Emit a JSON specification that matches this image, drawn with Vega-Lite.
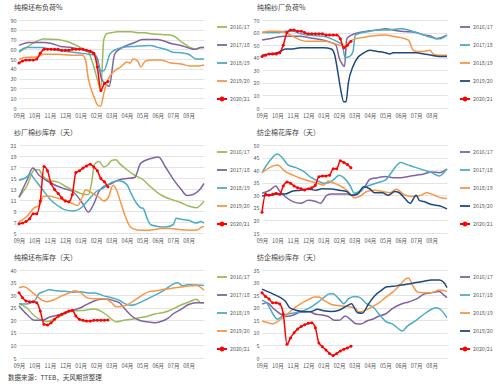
{
"$schema":"https://vega.github.io/schema/vega-lite/v6.json",
"padding":{"left":7,"top":4,"right":0,"bottom":2},
"title":{"text":"数据来源：TTEB，天风期货整理","orient":"bottom","anchor":"start","frame":"bounds","fontSize":6.5,"fontWeight":"normal","color":"#404040","offset":6,"dx":-2},
"columns":2,
"bounds":"flush",
"spacing":{"row":37,"column":58},
"resolve":{"scale":{"color":"independent","x":"independent","y":"independent"},"legend":{"color":"independent"}},
"config":{
"font":"Noto Sans CJK SC",
"view":{"stroke":null},
"axis":{"labelFontSize":5.5,"labelColor":"#595959","ticks":false,"domain":false,"title":null,"labelPadding":3,"gridColor":"#d9d9d9","gridWidth":0.7},
"axisX":{"grid":false,"labelOverlap":false,"labelFlush":false,"labelPadding":5},
"legend":{"orient":"right","labelFontSize":5.3,"labelColor":"#595959","symbolType":"stroke","symbolStrokeWidth":1.8,"symbolSize":100,"rowPadding":8,"offset":8,"padding":1,"labelOffset":2}
},
"concat":[
{
"width":185,"height":88,
"title":{"text":"纯棉坯布负荷%","anchor":"start","frame":"group","fontSize":7,"fontWeight":"normal","color":"#404040","offset":7,"dx":-5},
"data":{"values":[
{"s":"2016/17","m":0,"v":57},{"s":"2016/17","m":0.5,"v":62},{"s":"2016/17","m":0.9,"v":66},{"s":"2016/17","m":1.6,"v":70.5},{"s":"2016/17","m":2.5,"v":70},{"s":"2016/17","m":3.1,"v":68},{"s":"2016/17","m":3.6,"v":65},{"s":"2016/17","m":4.2,"v":60},{"s":"2016/17","m":4.5,"v":57},{"s":"2016/17","m":4.8,"v":45},{"s":"2016/17","m":5.1,"v":28},{"s":"2016/17","m":5.3,"v":18},{"s":"2016/17","m":5.5,"v":70},{"s":"2016/17","m":5.7,"v":76},{"s":"2016/17","m":6,"v":77},{"s":"2016/17","m":6.4,"v":78},{"s":"2016/17","m":7.3,"v":78},{"s":"2016/17","m":7.7,"v":77},{"s":"2016/17","m":8.2,"v":77},{"s":"2016/17","m":8.5,"v":76},{"s":"2016/17","m":9.4,"v":75},{"s":"2016/17","m":10,"v":74},{"s":"2016/17","m":10.5,"v":68},{"s":"2016/17","m":11.1,"v":62},{"s":"2016/17","m":11.5,"v":60},{"s":"2016/17","m":11.8,"v":62},{"s":"2016/17","m":12,"v":62},
{"s":"2017/18","m":0,"v":64},{"s":"2017/18","m":0.65,"v":67},{"s":"2017/18","m":1.6,"v":67},{"s":"2017/18","m":2.1,"v":66},{"s":"2017/18","m":2.7,"v":63},{"s":"2017/18","m":3.4,"v":62},{"s":"2017/18","m":4,"v":60},{"s":"2017/18","m":4.5,"v":58},{"s":"2017/18","m":4.9,"v":55},{"s":"2017/18","m":5.1,"v":50},{"s":"2017/18","m":5.35,"v":30},{"s":"2017/18","m":5.6,"v":25},{"s":"2017/18","m":5.85,"v":22},{"s":"2017/18","m":6.2,"v":55},{"s":"2017/18","m":6.5,"v":60},{"s":"2017/18","m":7,"v":64},{"s":"2017/18","m":7.5,"v":67},{"s":"2017/18","m":8,"v":70},{"s":"2017/18","m":9,"v":70},{"s":"2017/18","m":9.3,"v":69},{"s":"2017/18","m":9.85,"v":66},{"s":"2017/18","m":10.5,"v":64},{"s":"2017/18","m":11.1,"v":61},{"s":"2017/18","m":11.4,"v":60},{"s":"2017/18","m":11.8,"v":62},{"s":"2017/18","m":12,"v":62},
{"s":"2018/19","m":0,"v":58},{"s":"2018/19","m":0.5,"v":62},{"s":"2018/19","m":1.5,"v":62},{"s":"2018/19","m":2,"v":60},{"s":"2018/19","m":3,"v":58},{"s":"2018/19","m":4,"v":56},{"s":"2018/19","m":4.5,"v":55},{"s":"2018/19","m":4.9,"v":54},{"s":"2018/19","m":5.15,"v":45},{"s":"2018/19","m":5.3,"v":38},{"s":"2018/19","m":5.5,"v":38},{"s":"2018/19","m":5.9,"v":55},{"s":"2018/19","m":6.3,"v":60},{"s":"2018/19","m":6.8,"v":62},{"s":"2018/19","m":7.5,"v":63},{"s":"2018/19","m":8.5,"v":64},{"s":"2018/19","m":9,"v":62},{"s":"2018/19","m":9.5,"v":60},{"s":"2018/19","m":10,"v":57},{"s":"2018/19","m":10.5,"v":56.5},{"s":"2018/19","m":11,"v":55},{"s":"2018/19","m":11.5,"v":50},{"s":"2018/19","m":12,"v":50},
{"s":"2019/20","m":0,"v":50},{"s":"2019/20","m":0.5,"v":52},{"s":"2019/20","m":1,"v":52},{"s":"2019/20","m":1.3,"v":53},{"s":"2019/20","m":1.6,"v":55},{"s":"2019/20","m":2.5,"v":55},{"s":"2019/20","m":3.4,"v":54},{"s":"2019/20","m":4.1,"v":54},{"s":"2019/20","m":4.3,"v":50},{"s":"2019/20","m":4.5,"v":30},{"s":"2019/20","m":4.9,"v":10},{"s":"2019/20","m":5.1,"v":3},{"s":"2019/20","m":5.3,"v":2},{"s":"2019/20","m":5.5,"v":15},{"s":"2019/20","m":5.8,"v":30},{"s":"2019/20","m":6.2,"v":38},{"s":"2019/20","m":6.6,"v":42},{"s":"2019/20","m":7,"v":47},{"s":"2019/20","m":7.2,"v":46},{"s":"2019/20","m":7.4,"v":50},{"s":"2019/20","m":7.7,"v":48},{"s":"2019/20","m":7.9,"v":42},{"s":"2019/20","m":8.2,"v":48},{"s":"2019/20","m":8.7,"v":49},{"s":"2019/20","m":9.2,"v":49},{"s":"2019/20","m":9.85,"v":46},{"s":"2019/20","m":10.5,"v":45},{"s":"2019/20","m":11.1,"v":43},{"s":"2019/20","m":11.6,"v":43},{"s":"2019/20","m":12,"v":44},
{"s":"2020/21","m":0,"v":46},{"s":"2020/21","m":0.23,"v":48},{"s":"2020/21","m":0.46,"v":49},{"s":"2020/21","m":0.69,"v":49},{"s":"2020/21","m":0.92,"v":49},{"s":"2020/21","m":1.15,"v":50},{"s":"2020/21","m":1.38,"v":56},{"s":"2020/21","m":1.62,"v":60},{"s":"2020/21","m":1.85,"v":60},{"s":"2020/21","m":2.08,"v":60},{"s":"2020/21","m":2.31,"v":60},{"s":"2020/21","m":2.54,"v":60},{"s":"2020/21","m":2.77,"v":59},{"s":"2020/21","m":3,"v":59},{"s":"2020/21","m":3.23,"v":59},{"s":"2020/21","m":3.46,"v":60},{"s":"2020/21","m":3.69,"v":60},{"s":"2020/21","m":3.92,"v":60},{"s":"2020/21","m":4.15,"v":60},{"s":"2020/21","m":4.38,"v":59},{"s":"2020/21","m":4.62,"v":58},{"s":"2020/21","m":4.85,"v":56},{"s":"2020/21","m":5.08,"v":42},{"s":"2020/21","m":5.31,"v":18},{"s":"2020/21","m":5.54,"v":25},{"s":"2020/21","m":5.77,"v":27}
]},
"encoding":{
"x":{"field":"m","type":"quantitative","scale":{"domain":[0,12],"nice":false},"axis":{"values":[0,1,2,3,4,5,6,7,8,9,10,11],"labelExpr":"['09月','10月','11月','12月','01月','02月','03月','04月','05月','06月','07月','08月'][datum.value]"}},
"y":{"field":"v","type":"quantitative","scale":{"domain":[0,90],"nice":false},"axis":{"values":[0,10,20,30,40,50,60,70,80,90]}},
"color":{"field":"s","type":"nominal","scale":{"domain":["2016/17","2017/18","2018/19","2019/20","2020/21"],"range":["#9BBB59","#8064A2","#4BACC6","#F79646","#FF0000"]},"legend":{"title":null,"encode":{"symbols":{"update":{"shape":[{"test":"datum.value==='2020/21'","value":"M-1,0H1M-0.3,0A0.3,0.3,0,1,0,0.3,0A0.3,0.3,0,1,0,-0.3,0Z"},{"value":"stroke"}],"fill":[{"test":"datum.value==='2020/21'","value":"#FF0000"},{"value":"transparent"}]}}}}}
},
"layer":[
{"mark":{"type":"line","interpolate":"monotone","strokeWidth":1.5}},
{"transform":[{"filter":"datum.s==='2020/21'"}],"mark":{"type":"point","filled":true,"size":9,"opacity":1},"encoding":{"color":{"value":"#FF0000"}}}
]
},
{
"width":185,"height":88,
"title":{"text":"纯棉纱厂负荷%","anchor":"start","frame":"group","fontSize":7,"fontWeight":"normal","color":"#404040","offset":7,"dx":-5},
"data":{"values":[
{"s":"2016/17","m":0,"v":54},{"s":"2016/17","m":0.5,"v":55},{"s":"2016/17","m":1,"v":56.5},{"s":"2016/17","m":1.5,"v":57},{"s":"2016/17","m":2.5,"v":57},{"s":"2016/17","m":3,"v":56},{"s":"2016/17","m":3.5,"v":55},{"s":"2016/17","m":4,"v":54},{"s":"2016/17","m":4.5,"v":52},{"s":"2016/17","m":4.8,"v":50},{"s":"2016/17","m":5,"v":40},{"s":"2016/17","m":5.2,"v":35},{"s":"2016/17","m":5.35,"v":33},{"s":"2016/17","m":5.5,"v":55},{"s":"2016/17","m":5.8,"v":58},{"s":"2016/17","m":6.3,"v":60},{"s":"2016/17","m":7,"v":61.5},{"s":"2016/17","m":7.5,"v":62},{"s":"2016/17","m":8,"v":63},{"s":"2016/17","m":8.5,"v":62},{"s":"2016/17","m":9,"v":61},{"s":"2016/17","m":10,"v":60},{"s":"2016/17","m":10.5,"v":58},{"s":"2016/17","m":11,"v":57},{"s":"2016/17","m":11.3,"v":55},{"s":"2016/17","m":11.6,"v":56},{"s":"2016/17","m":12,"v":58},
{"s":"2017/18","m":0,"v":60},{"s":"2017/18","m":1,"v":60},{"s":"2017/18","m":1.5,"v":61},{"s":"2017/18","m":2,"v":61},{"s":"2017/18","m":2.5,"v":59},{"s":"2017/18","m":3,"v":58},{"s":"2017/18","m":4,"v":57},{"s":"2017/18","m":4.5,"v":55},{"s":"2017/18","m":5,"v":52},{"s":"2017/18","m":5.2,"v":50},{"s":"2017/18","m":5.4,"v":40},{"s":"2017/18","m":5.7,"v":41},{"s":"2017/18","m":5.9,"v":45},{"s":"2017/18","m":6.05,"v":58},{"s":"2017/18","m":6.5,"v":60},{"s":"2017/18","m":7,"v":61},{"s":"2017/18","m":7.5,"v":62},{"s":"2017/18","m":8,"v":62},{"s":"2017/18","m":9,"v":63},{"s":"2017/18","m":9.5,"v":62},{"s":"2017/18","m":10,"v":60},{"s":"2017/18","m":10.5,"v":58},{"s":"2017/18","m":11,"v":56},{"s":"2017/18","m":11.5,"v":55},{"s":"2017/18","m":12,"v":58},
{"s":"2018/19","m":0,"v":60},{"s":"2018/19","m":0.5,"v":61},{"s":"2018/19","m":1,"v":61},{"s":"2018/19","m":1.5,"v":60},{"s":"2018/19","m":2,"v":57},{"s":"2018/19","m":2.5,"v":54},{"s":"2018/19","m":3,"v":53},{"s":"2018/19","m":4,"v":53},{"s":"2018/19","m":4.5,"v":52},{"s":"2018/19","m":5,"v":50},{"s":"2018/19","m":5.3,"v":49},{"s":"2018/19","m":5.6,"v":52},{"s":"2018/19","m":6,"v":55},{"s":"2018/19","m":6.5,"v":56},{"s":"2018/19","m":7,"v":57},{"s":"2018/19","m":8,"v":58},{"s":"2018/19","m":8.5,"v":57},{"s":"2018/19","m":9,"v":56},{"s":"2018/19","m":9.5,"v":54},{"s":"2018/19","m":9.8,"v":46},{"s":"2018/19","m":10,"v":45},{"s":"2018/19","m":10.5,"v":45},{"s":"2018/19","m":10.9,"v":46},{"s":"2018/19","m":11.1,"v":43},{"s":"2018/19","m":11.5,"v":42},{"s":"2018/19","m":12,"v":42},
{"s":"2019/20","m":0,"v":42},{"s":"2019/20","m":0.5,"v":43},{"s":"2019/20","m":1,"v":44},{"s":"2019/20","m":1.2,"v":45},{"s":"2019/20","m":1.5,"v":47},{"s":"2019/20","m":2,"v":47},{"s":"2019/20","m":2.5,"v":48},{"s":"2019/20","m":3,"v":48},{"s":"2019/20","m":4,"v":48},{"s":"2019/20","m":4.5,"v":47},{"s":"2019/20","m":4.7,"v":43},{"s":"2019/20","m":4.9,"v":30},{"s":"2019/20","m":5.1,"v":15},{"s":"2019/20","m":5.3,"v":5},{"s":"2019/20","m":5.45,"v":5},{"s":"2019/20","m":5.6,"v":20},{"s":"2019/20","m":5.9,"v":33},{"s":"2019/20","m":6.2,"v":40},{"s":"2019/20","m":6.5,"v":43},{"s":"2019/20","m":7,"v":46},{"s":"2019/20","m":7.5,"v":45},{"s":"2019/20","m":8,"v":44},{"s":"2019/20","m":8.3,"v":43},{"s":"2019/20","m":8.5,"v":44},{"s":"2019/20","m":9,"v":44},{"s":"2019/20","m":10,"v":44},{"s":"2019/20","m":10.5,"v":43},{"s":"2019/20","m":11,"v":42},{"s":"2019/20","m":11.5,"v":41},{"s":"2019/20","m":12,"v":41},
{"s":"2020/21","m":0,"v":41},{"s":"2020/21","m":0.23,"v":42},{"s":"2020/21","m":0.46,"v":43},{"s":"2020/21","m":0.69,"v":43},{"s":"2020/21","m":0.92,"v":43},{"s":"2020/21","m":1.15,"v":44},{"s":"2020/21","m":1.38,"v":50},{"s":"2020/21","m":1.62,"v":60},{"s":"2020/21","m":1.85,"v":62},{"s":"2020/21","m":2.08,"v":62},{"s":"2020/21","m":2.31,"v":61},{"s":"2020/21","m":2.54,"v":61},{"s":"2020/21","m":2.77,"v":60},{"s":"2020/21","m":3,"v":59},{"s":"2020/21","m":3.23,"v":59},{"s":"2020/21","m":3.46,"v":59},{"s":"2020/21","m":3.69,"v":59},{"s":"2020/21","m":3.92,"v":59},{"s":"2020/21","m":4.15,"v":58},{"s":"2020/21","m":4.38,"v":58},{"s":"2020/21","m":4.62,"v":58},{"s":"2020/21","m":4.85,"v":58},{"s":"2020/21","m":5.08,"v":55},{"s":"2020/21","m":5.31,"v":48},{"s":"2020/21","m":5.54,"v":50},{"s":"2020/21","m":5.77,"v":53}
]},
"encoding":{
"x":{"field":"m","type":"quantitative","scale":{"domain":[0,12],"nice":false},"axis":{"values":[0,1,2,3,4,5,6,7,8,9,10,11],"labelExpr":"['09月','10月','11月','12月','01月','02月','03月','04月','05月','06月','07月','08月'][datum.value]"}},
"y":{"field":"v","type":"quantitative","scale":{"domain":[0,70],"nice":false},"axis":{"values":[0,10,20,30,40,50,60,70]}},
"color":{"field":"s","type":"nominal","scale":{"domain":["2016/17","2017/18","2018/19","2019/20","2020/21"],"range":["#8064A2","#4BACC6","#F79646","#1F497D","#FF0000"]},"legend":{"title":null,"encode":{"symbols":{"update":{"shape":[{"test":"datum.value==='2020/21'","value":"M-1,0H1M-0.3,0A0.3,0.3,0,1,0,0.3,0A0.3,0.3,0,1,0,-0.3,0Z"},{"value":"stroke"}],"fill":[{"test":"datum.value==='2020/21'","value":"#FF0000"},{"value":"transparent"}]}}}}}
},
"layer":[
{"mark":{"type":"line","interpolate":"monotone","strokeWidth":1.5}},
{"transform":[{"filter":"datum.s==='2020/21'"}],"mark":{"type":"point","filled":true,"size":9,"opacity":1},"encoding":{"color":{"value":"#FF0000"}}}
]
},
{
"width":185,"height":88,
"title":{"text":"纱厂棉纱库存（天）","anchor":"start","frame":"group","fontSize":7,"fontWeight":"normal","color":"#404040","offset":7,"dx":-5},
"data":{"values":[
{"s":"2016/17","m":0,"v":11.5},{"s":"2016/17","m":0.5,"v":13.5},{"s":"2016/17","m":1,"v":16.5},{"s":"2016/17","m":1.3,"v":16.5},{"s":"2016/17","m":1.5,"v":15.5},{"s":"2016/17","m":2,"v":14.5},{"s":"2016/17","m":2.5,"v":14.3},{"s":"2016/17","m":3,"v":13.5},{"s":"2016/17","m":3.5,"v":12.8},{"s":"2016/17","m":4,"v":12.2},{"s":"2016/17","m":4.3,"v":12},{"s":"2016/17","m":4.5,"v":12},{"s":"2016/17","m":4.7,"v":14},{"s":"2016/17","m":4.9,"v":17.5},{"s":"2016/17","m":5.2,"v":18},{"s":"2016/17","m":5.5,"v":17},{"s":"2016/17","m":5.8,"v":17.5},{"s":"2016/17","m":6,"v":18.2},{"s":"2016/17","m":6.3,"v":18.3},{"s":"2016/17","m":6.5,"v":17.7},{"s":"2016/17","m":7,"v":16.5},{"s":"2016/17","m":7.5,"v":15.5},{"s":"2016/17","m":8,"v":14.8},{"s":"2016/17","m":8.5,"v":13.5},{"s":"2016/17","m":9,"v":12.3},{"s":"2016/17","m":9.5,"v":11.5},{"s":"2016/17","m":10,"v":11},{"s":"2016/17","m":10.5,"v":10.5},{"s":"2016/17","m":11,"v":9.9},{"s":"2016/17","m":11.5,"v":9.6},{"s":"2016/17","m":12,"v":10.8},
{"s":"2017/18","m":0,"v":11.5},{"s":"2017/18","m":0.5,"v":14.5},{"s":"2017/18","m":0.9,"v":16.8},{"s":"2017/18","m":1.3,"v":15.5},{"s":"2017/18","m":1.8,"v":14.5},{"s":"2017/18","m":2.5,"v":13.5},{"s":"2017/18","m":3,"v":13},{"s":"2017/18","m":3.5,"v":12.5},{"s":"2017/18","m":4.1,"v":10.5},{"s":"2017/18","m":4.5,"v":8.8},{"s":"2017/18","m":4.8,"v":10},{"s":"2017/18","m":5.2,"v":12.6},{"s":"2017/18","m":5.5,"v":13.5},{"s":"2017/18","m":6,"v":14},{"s":"2017/18","m":6.5,"v":14.7},{"s":"2017/18","m":7.5,"v":15.1},{"s":"2017/18","m":7.9,"v":17.7},{"s":"2017/18","m":8.5,"v":18.5},{"s":"2017/18","m":9.05,"v":18.8},{"s":"2017/18","m":9.5,"v":17},{"s":"2017/18","m":10,"v":14.8},{"s":"2017/18","m":10.5,"v":13},{"s":"2017/18","m":10.9,"v":11.8},{"s":"2017/18","m":11.3,"v":12},{"s":"2017/18","m":11.7,"v":12.8},{"s":"2017/18","m":12,"v":14},
{"s":"2018/19","m":0,"v":14.6},{"s":"2018/19","m":0.4,"v":15},{"s":"2018/19","m":0.75,"v":15.7},{"s":"2018/19","m":1,"v":14.8},{"s":"2018/19","m":1.5,"v":13},{"s":"2018/19","m":2,"v":11.2},{"s":"2018/19","m":2.5,"v":10},{"s":"2018/19","m":3,"v":9.2},{"s":"2018/19","m":3.5,"v":9},{"s":"2018/19","m":4,"v":9.5},{"s":"2018/19","m":4.5,"v":11},{"s":"2018/19","m":5,"v":12.5},{"s":"2018/19","m":5.5,"v":13.2},{"s":"2018/19","m":6,"v":14.2},{"s":"2018/19","m":6.5,"v":14.5},{"s":"2018/19","m":7,"v":13.8},{"s":"2018/19","m":7.25,"v":12.3},{"s":"2018/19","m":7.6,"v":10.5},{"s":"2018/19","m":7.9,"v":9.6},{"s":"2018/19","m":8.05,"v":9.5},{"s":"2018/19","m":8.3,"v":7.7},{"s":"2018/19","m":8.55,"v":6.5},{"s":"2018/19","m":9,"v":6.2},{"s":"2018/19","m":9.5,"v":6.1},{"s":"2018/19","m":10,"v":6.5},{"s":"2018/19","m":10.2,"v":7.7},{"s":"2018/19","m":10.5,"v":7.5},{"s":"2018/19","m":11,"v":7.3},{"s":"2018/19","m":11.5,"v":6.8},{"s":"2018/19","m":11.8,"v":7.1},{"s":"2018/19","m":12,"v":6.8},
{"s":"2019/20","m":0,"v":7},{"s":"2019/20","m":0.5,"v":8},{"s":"2019/20","m":1,"v":9.6},{"s":"2019/20","m":1.3,"v":10},{"s":"2019/20","m":1.6,"v":11.7},{"s":"2019/20","m":2,"v":11.7},{"s":"2019/20","m":2.5,"v":11.3},{"s":"2019/20","m":3,"v":11},{"s":"2019/20","m":3.5,"v":10.3},{"s":"2019/20","m":3.8,"v":10},{"s":"2019/20","m":4.1,"v":11.5},{"s":"2019/20","m":4.3,"v":12.8},{"s":"2019/20","m":4.6,"v":12.5},{"s":"2019/20","m":4.9,"v":12},{"s":"2019/20","m":5.2,"v":11.5},{"s":"2019/20","m":5.5,"v":10.8},{"s":"2019/20","m":5.8,"v":11.5},{"s":"2019/20","m":6.1,"v":13.7},{"s":"2019/20","m":6.3,"v":13},{"s":"2019/20","m":6.6,"v":10.5},{"s":"2019/20","m":6.9,"v":8},{"s":"2019/20","m":7.2,"v":6.2},{"s":"2019/20","m":7.6,"v":5.6},{"s":"2019/20","m":8,"v":5.5},{"s":"2019/20","m":8.7,"v":5.6},{"s":"2019/20","m":9.2,"v":5.8},{"s":"2019/20","m":9.85,"v":5.8},{"s":"2019/20","m":10.5,"v":5.6},{"s":"2019/20","m":11.1,"v":5.5},{"s":"2019/20","m":11.6,"v":5.6},{"s":"2019/20","m":11.8,"v":6},{"s":"2019/20","m":12,"v":6.2},
{"s":"2020/21","m":0,"v":6.7},{"s":"2020/21","m":0.23,"v":6.8},{"s":"2020/21","m":0.46,"v":7.1},{"s":"2020/21","m":0.69,"v":7.6},{"s":"2020/21","m":0.92,"v":8.5},{"s":"2020/21","m":1.15,"v":8.5},{"s":"2020/21","m":1.38,"v":10.8},{"s":"2020/21","m":1.62,"v":17.1},{"s":"2020/21","m":1.85,"v":16.3},{"s":"2020/21","m":2.08,"v":14},{"s":"2020/21","m":2.31,"v":12.9},{"s":"2020/21","m":2.54,"v":12.2},{"s":"2020/21","m":2.77,"v":11.4},{"s":"2020/21","m":3,"v":10.8},{"s":"2020/21","m":3.23,"v":10.7},{"s":"2020/21","m":3.46,"v":12},{"s":"2020/21","m":3.69,"v":16},{"s":"2020/21","m":3.92,"v":16.3},{"s":"2020/21","m":4.15,"v":16.8},{"s":"2020/21","m":4.38,"v":17.2},{"s":"2020/21","m":4.62,"v":17.5},{"s":"2020/21","m":4.85,"v":17},{"s":"2020/21","m":5.08,"v":16.3},{"s":"2020/21","m":5.31,"v":14.9},{"s":"2020/21","m":5.54,"v":14.3},{"s":"2020/21","m":5.77,"v":13.4}
]},
"encoding":{
"x":{"field":"m","type":"quantitative","scale":{"domain":[0,12],"nice":false},"axis":{"values":[0,1,2,3,4,5,6,7,8,9,10,11],"labelExpr":"['09月','10月','11月','12月','01月','02月','03月','04月','05月','06月','07月','08月'][datum.value]"}},
"y":{"field":"v","type":"quantitative","scale":{"domain":[5,21],"nice":false},"axis":{"values":[5,7,9,11,13,15,17,19,21]}},
"color":{"field":"s","type":"nominal","scale":{"domain":["2016/17","2017/18","2018/19","2019/20","2020/21"],"range":["#9BBB59","#8064A2","#4BACC6","#F79646","#FF0000"]},"legend":{"title":null,"encode":{"symbols":{"update":{"shape":[{"test":"datum.value==='2020/21'","value":"M-1,0H1M-0.3,0A0.3,0.3,0,1,0,0.3,0A0.3,0.3,0,1,0,-0.3,0Z"},{"value":"stroke"}],"fill":[{"test":"datum.value==='2020/21'","value":"#FF0000"},{"value":"transparent"}]}}}}}
},
"layer":[
{"mark":{"type":"line","interpolate":"monotone","strokeWidth":1.5}},
{"transform":[{"filter":"datum.s==='2020/21'"}],"mark":{"type":"point","filled":true,"size":9,"opacity":1},"encoding":{"color":{"value":"#FF0000"}}}
]
},
{
"width":185,"height":88,
"title":{"text":"纺企棉花库存（天）","anchor":"start","frame":"group","fontSize":7,"fontWeight":"normal","color":"#404040","offset":7,"dx":-5},
"data":{"values":[
{"s":"2016/17","m":0,"v":30.8},{"s":"2016/17","m":0.5,"v":32},{"s":"2016/17","m":0.9,"v":33.7},{"s":"2016/17","m":1.1,"v":32},{"s":"2016/17","m":1.5,"v":29.5},{"s":"2016/17","m":2,"v":27.5},{"s":"2016/17","m":2.5,"v":26.8},{"s":"2016/17","m":3,"v":28},{"s":"2016/17","m":3.5,"v":27.5},{"s":"2016/17","m":3.8,"v":26.8},{"s":"2016/17","m":4.2,"v":30},{"s":"2016/17","m":4.5,"v":30.5},{"s":"2016/17","m":5.5,"v":30.5},{"s":"2016/17","m":6,"v":30},{"s":"2016/17","m":6.3,"v":31},{"s":"2016/17","m":6.7,"v":33.7},{"s":"2016/17","m":7,"v":36.4},{"s":"2016/17","m":7.5,"v":37},{"s":"2016/17","m":8,"v":37.5},{"s":"2016/17","m":8.5,"v":37},{"s":"2016/17","m":9,"v":37},{"s":"2016/17","m":9.5,"v":37.5},{"s":"2016/17","m":10,"v":38},{"s":"2016/17","m":10.5,"v":38.5},{"s":"2016/17","m":11,"v":39.3},{"s":"2016/17","m":11.5,"v":39},{"s":"2016/17","m":12,"v":40.4},
{"s":"2017/18","m":0,"v":39},{"s":"2017/18","m":0.5,"v":43.7},{"s":"2017/18","m":1,"v":46.4},{"s":"2017/18","m":1.3,"v":45},{"s":"2017/18","m":1.7,"v":42},{"s":"2017/18","m":2.2,"v":41},{"s":"2017/18","m":2.7,"v":39.5},{"s":"2017/18","m":3.2,"v":37},{"s":"2017/18","m":3.7,"v":35.5},{"s":"2017/18","m":4,"v":34.8},{"s":"2017/18","m":4.3,"v":35},{"s":"2017/18","m":4.6,"v":36},{"s":"2017/18","m":5,"v":38},{"s":"2017/18","m":5.3,"v":37},{"s":"2017/18","m":5.7,"v":34},{"s":"2017/18","m":6,"v":30.8},{"s":"2017/18","m":6.3,"v":31.5},{"s":"2017/18","m":6.6,"v":33},{"s":"2017/18","m":7,"v":34},{"s":"2017/18","m":7.5,"v":35},{"s":"2017/18","m":8,"v":36},{"s":"2017/18","m":8.5,"v":40},{"s":"2017/18","m":9,"v":43},{"s":"2017/18","m":9.5,"v":42},{"s":"2017/18","m":10,"v":41},{"s":"2017/18","m":10.5,"v":40},{"s":"2017/18","m":11,"v":39},{"s":"2017/18","m":11.5,"v":37.7},{"s":"2017/18","m":11.8,"v":39},{"s":"2017/18","m":12,"v":40.5},
{"s":"2018/19","m":0,"v":39},{"s":"2018/19","m":0.5,"v":41},{"s":"2018/19","m":1,"v":42},{"s":"2018/19","m":1.5,"v":39.5},{"s":"2018/19","m":2,"v":38},{"s":"2018/19","m":2.5,"v":36.8},{"s":"2018/19","m":3,"v":35.8},{"s":"2018/19","m":3.5,"v":35},{"s":"2018/19","m":4,"v":34},{"s":"2018/19","m":4.3,"v":35.7},{"s":"2018/19","m":4.6,"v":35},{"s":"2018/19","m":5,"v":34},{"s":"2018/19","m":5.5,"v":32},{"s":"2018/19","m":5.8,"v":30},{"s":"2018/19","m":6,"v":29},{"s":"2018/19","m":6.3,"v":29.5},{"s":"2018/19","m":6.8,"v":31.5},{"s":"2018/19","m":7.3,"v":32},{"s":"2018/19","m":7.8,"v":31.5},{"s":"2018/19","m":8.3,"v":31},{"s":"2018/19","m":8.7,"v":32.4},{"s":"2018/19","m":9.3,"v":30},{"s":"2018/19","m":9.8,"v":29.5},{"s":"2018/19","m":10.3,"v":30},{"s":"2018/19","m":10.7,"v":31},{"s":"2018/19","m":11.2,"v":30},{"s":"2018/19","m":11.6,"v":29},{"s":"2018/19","m":12,"v":28.7},
{"s":"2019/20","m":0,"v":29.7},{"s":"2019/20","m":0.5,"v":30},{"s":"2019/20","m":1,"v":30.5},{"s":"2019/20","m":1.5,"v":30.5},{"s":"2019/20","m":2,"v":31.7},{"s":"2019/20","m":2.5,"v":32},{"s":"2019/20","m":3,"v":32.5},{"s":"2019/20","m":3.5,"v":32},{"s":"2019/20","m":3.9,"v":32.6},{"s":"2019/20","m":4.5,"v":32.5},{"s":"2019/20","m":5,"v":32},{"s":"2019/20","m":5.5,"v":31.5},{"s":"2019/20","m":5.8,"v":30},{"s":"2019/20","m":6.2,"v":30.5},{"s":"2019/20","m":6.6,"v":33.4},{"s":"2019/20","m":7,"v":32.5},{"s":"2019/20","m":7.3,"v":31},{"s":"2019/20","m":7.8,"v":31},{"s":"2019/20","m":8.2,"v":30},{"s":"2019/20","m":8.6,"v":31.5},{"s":"2019/20","m":8.9,"v":31},{"s":"2019/20","m":9.3,"v":28.5},{"s":"2019/20","m":9.6,"v":26.8},{"s":"2019/20","m":10,"v":30},{"s":"2019/20","m":10.2,"v":28},{"s":"2019/20","m":10.5,"v":27.5},{"s":"2019/20","m":11,"v":26.3},{"s":"2019/20","m":11.5,"v":25.8},{"s":"2019/20","m":12,"v":24.6},
{"s":"2020/21","m":0,"v":23.3},{"s":"2020/21","m":0.23,"v":30.4},{"s":"2020/21","m":0.46,"v":30},{"s":"2020/21","m":0.69,"v":30.4},{"s":"2020/21","m":0.92,"v":30.8},{"s":"2020/21","m":1.15,"v":30.4},{"s":"2020/21","m":1.38,"v":33.7},{"s":"2020/21","m":1.62,"v":35.3},{"s":"2020/21","m":1.85,"v":34.8},{"s":"2020/21","m":2.08,"v":33.7},{"s":"2020/21","m":2.31,"v":33},{"s":"2020/21","m":2.54,"v":32.6},{"s":"2020/21","m":2.77,"v":32.1},{"s":"2020/21","m":3,"v":32.6},{"s":"2020/21","m":3.23,"v":33},{"s":"2020/21","m":3.46,"v":34},{"s":"2020/21","m":3.69,"v":37.4},{"s":"2020/21","m":3.92,"v":37.7},{"s":"2020/21","m":4.15,"v":37.7},{"s":"2020/21","m":4.38,"v":38},{"s":"2020/21","m":4.62,"v":40.6},{"s":"2020/21","m":4.85,"v":40.6},{"s":"2020/21","m":5.08,"v":43.7},{"s":"2020/21","m":5.31,"v":43},{"s":"2020/21","m":5.54,"v":42.2},{"s":"2020/21","m":5.77,"v":41}
]},
"encoding":{
"x":{"field":"m","type":"quantitative","scale":{"domain":[0,12],"nice":false},"axis":{"values":[0,1,2,3,4,5,6,7,8,9,10,11],"labelExpr":"['09月','10月','11月','12月','01月','02月','03月','04月','05月','06月','07月','08月'][datum.value]"}},
"y":{"field":"v","type":"quantitative","scale":{"domain":[15,50],"nice":false},"axis":{"values":[15,20,25,30,35,40,45,50]}},
"color":{"field":"s","type":"nominal","scale":{"domain":["2016/17","2017/18","2018/19","2019/20","2020/21"],"range":["#8064A2","#4BACC6","#F79646","#1F497D","#FF0000"]},"legend":{"title":null,"encode":{"symbols":{"update":{"shape":[{"test":"datum.value==='2020/21'","value":"M-1,0H1M-0.3,0A0.3,0.3,0,1,0,0.3,0A0.3,0.3,0,1,0,-0.3,0Z"},{"value":"stroke"}],"fill":[{"test":"datum.value==='2020/21'","value":"#FF0000"},{"value":"transparent"}]}}}}}
},
"layer":[
{"mark":{"type":"line","interpolate":"monotone","strokeWidth":1.5}},
{"transform":[{"filter":"datum.s==='2020/21'"}],"mark":{"type":"point","filled":true,"size":9,"opacity":1},"encoding":{"color":{"value":"#FF0000"}}}
]
},
{
"width":185,"height":88,
"title":{"text":"纯棉坯布库存（天）","anchor":"start","frame":"group","fontSize":7,"fontWeight":"normal","color":"#404040","offset":7,"dx":-5},
"data":{"values":[
{"s":"2016/17","m":0,"v":26.6},{"s":"2016/17","m":0.5,"v":25},{"s":"2016/17","m":1,"v":21.7},{"s":"2016/17","m":1.5,"v":20},{"s":"2016/17","m":1.8,"v":19.5},{"s":"2016/17","m":2.3,"v":20.5},{"s":"2016/17","m":2.8,"v":22},{"s":"2016/17","m":3.3,"v":23.5},{"s":"2016/17","m":3.8,"v":23.8},{"s":"2016/17","m":4.3,"v":24},{"s":"2016/17","m":4.8,"v":24.5},{"s":"2016/17","m":5.2,"v":24},{"s":"2016/17","m":5.6,"v":22.5},{"s":"2016/17","m":6,"v":20.5},{"s":"2016/17","m":6.3,"v":19.4},{"s":"2016/17","m":6.8,"v":20},{"s":"2016/17","m":7.3,"v":20.4},{"s":"2016/17","m":7.8,"v":21},{"s":"2016/17","m":8.3,"v":21.5},{"s":"2016/17","m":8.8,"v":22.5},{"s":"2016/17","m":9.3,"v":23},{"s":"2016/17","m":9.8,"v":24},{"s":"2016/17","m":10.3,"v":25.5},{"s":"2016/17","m":10.8,"v":26.8},{"s":"2016/17","m":11.3,"v":28},{"s":"2016/17","m":11.5,"v":28.4},{"s":"2016/17","m":11.8,"v":27},{"s":"2016/17","m":12,"v":27},
{"s":"2017/18","m":0,"v":25.7},{"s":"2017/18","m":0.5,"v":22.4},{"s":"2017/18","m":1,"v":20},{"s":"2017/18","m":1.5,"v":20},{"s":"2017/18","m":2,"v":21.3},{"s":"2017/18","m":2.5,"v":22},{"s":"2017/18","m":3,"v":23},{"s":"2017/18","m":3.5,"v":24},{"s":"2017/18","m":4,"v":25},{"s":"2017/18","m":4.3,"v":26},{"s":"2017/18","m":4.8,"v":27.5},{"s":"2017/18","m":5.3,"v":28.4},{"s":"2017/18","m":5.7,"v":28.5},{"s":"2017/18","m":6.2,"v":27.7},{"s":"2017/18","m":6.5,"v":27},{"s":"2017/18","m":6.8,"v":25},{"s":"2017/18","m":7.3,"v":21.7},{"s":"2017/18","m":7.8,"v":20},{"s":"2017/18","m":8.3,"v":19.4},{"s":"2017/18","m":8.8,"v":19},{"s":"2017/18","m":9.2,"v":19.5},{"s":"2017/18","m":9.7,"v":21},{"s":"2017/18","m":10,"v":22.6},{"s":"2017/18","m":10.5,"v":24.3},{"s":"2017/18","m":11,"v":26.3},{"s":"2017/18","m":11.5,"v":27},{"s":"2017/18","m":12,"v":27},
{"s":"2018/19","m":0,"v":26.6},{"s":"2018/19","m":0.5,"v":26.5},{"s":"2018/19","m":1,"v":27.7},{"s":"2018/19","m":1.3,"v":30.6},{"s":"2018/19","m":1.6,"v":31.4},{"s":"2018/19","m":2,"v":32.1},{"s":"2018/19","m":2.5,"v":31.7},{"s":"2018/19","m":3,"v":31.5},{"s":"2018/19","m":3.5,"v":31.2},{"s":"2018/19","m":4,"v":31.3},{"s":"2018/19","m":4.5,"v":30.9},{"s":"2018/19","m":5,"v":30.8},{"s":"2018/19","m":5.5,"v":29.7},{"s":"2018/19","m":6,"v":29},{"s":"2018/19","m":6.5,"v":28},{"s":"2018/19","m":6.8,"v":26.8},{"s":"2018/19","m":7.2,"v":26},{"s":"2018/19","m":7.5,"v":26.2},{"s":"2018/19","m":8,"v":27.5},{"s":"2018/19","m":8.5,"v":29},{"s":"2018/19","m":9,"v":30.5},{"s":"2018/19","m":9.5,"v":32.3},{"s":"2018/19","m":10,"v":34.4},{"s":"2018/19","m":10.3,"v":34.9},{"s":"2018/19","m":10.6,"v":33.7},{"s":"2018/19","m":11,"v":34.2},{"s":"2018/19","m":11.5,"v":34},{"s":"2018/19","m":12,"v":33.8},
{"s":"2019/20","m":0,"v":33},{"s":"2019/20","m":0.3,"v":33.3},{"s":"2019/20","m":1,"v":30.4},{"s":"2019/20","m":1.5,"v":28},{"s":"2019/20","m":1.8,"v":27.4},{"s":"2019/20","m":2.2,"v":28},{"s":"2019/20","m":2.7,"v":29.5},{"s":"2019/20","m":3.2,"v":30.7},{"s":"2019/20","m":3.6,"v":31.7},{"s":"2019/20","m":4,"v":31},{"s":"2019/20","m":4.4,"v":29},{"s":"2019/20","m":4.8,"v":28.6},{"s":"2019/20","m":5.2,"v":28.6},{"s":"2019/20","m":5.6,"v":28.6},{"s":"2019/20","m":6,"v":27},{"s":"2019/20","m":6.3,"v":25.4},{"s":"2019/20","m":6.6,"v":25.5},{"s":"2019/20","m":7,"v":26.1},{"s":"2019/20","m":7.5,"v":28},{"s":"2019/20","m":8,"v":30},{"s":"2019/20","m":8.5,"v":31.5},{"s":"2019/20","m":9,"v":31.8},{"s":"2019/20","m":9.5,"v":32.4},{"s":"2019/20","m":10,"v":32.8},{"s":"2019/20","m":10.5,"v":33.2},{"s":"2019/20","m":11,"v":33.6},{"s":"2019/20","m":11.5,"v":33.8},{"s":"2019/20","m":12,"v":32},
{"s":"2020/21","m":0,"v":31},{"s":"2020/21","m":0.23,"v":29},{"s":"2020/21","m":0.46,"v":27.7},{"s":"2020/21","m":0.69,"v":27.4},{"s":"2020/21","m":0.92,"v":27.4},{"s":"2020/21","m":1.15,"v":27},{"s":"2020/21","m":1.38,"v":23.7},{"s":"2020/21","m":1.62,"v":18.4},{"s":"2020/21","m":1.85,"v":18.1},{"s":"2020/21","m":2.08,"v":19},{"s":"2020/21","m":2.31,"v":20.4},{"s":"2020/21","m":2.54,"v":21.7},{"s":"2020/21","m":2.77,"v":22.4},{"s":"2020/21","m":3,"v":23},{"s":"2020/21","m":3.23,"v":23.7},{"s":"2020/21","m":3.46,"v":24},{"s":"2020/21","m":3.69,"v":21.7},{"s":"2020/21","m":3.92,"v":20.4},{"s":"2020/21","m":4.15,"v":20},{"s":"2020/21","m":4.38,"v":19.7},{"s":"2020/21","m":4.62,"v":19.7},{"s":"2020/21","m":4.85,"v":20},{"s":"2020/21","m":5.08,"v":20},{"s":"2020/21","m":5.31,"v":20},{"s":"2020/21","m":5.54,"v":20},{"s":"2020/21","m":5.77,"v":20.1}
]},
"encoding":{
"x":{"field":"m","type":"quantitative","scale":{"domain":[0,12],"nice":false},"axis":{"values":[0,1,2,3,4,5,6,7,8,9,10,11],"labelExpr":"['09月','10月','11月','12月','01月','02月','03月','04月','05月','06月','07月','08月'][datum.value]"}},
"y":{"field":"v","type":"quantitative","scale":{"domain":[5,40],"nice":false},"axis":{"values":[5,10,15,20,25,30,35,40]}},
"color":{"field":"s","type":"nominal","scale":{"domain":["2016/17","2017/18","2018/19","2019/20","2020/21"],"range":["#9BBB59","#8064A2","#4BACC6","#F79646","#FF0000"]},"legend":{"title":null,"encode":{"symbols":{"update":{"shape":[{"test":"datum.value==='2020/21'","value":"M-1,0H1M-0.3,0A0.3,0.3,0,1,0,0.3,0A0.3,0.3,0,1,0,-0.3,0Z"},{"value":"stroke"}],"fill":[{"test":"datum.value==='2020/21'","value":"#FF0000"},{"value":"transparent"}]}}}}}
},
"layer":[
{"mark":{"type":"line","interpolate":"monotone","strokeWidth":1.5}},
{"transform":[{"filter":"datum.s==='2020/21'"}],"mark":{"type":"point","filled":true,"size":9,"opacity":1},"encoding":{"color":{"value":"#FF0000"}}}
]
},
{
"width":185,"height":88,
"title":{"text":"纺企棉纱库存（天）","anchor":"start","frame":"group","fontSize":7,"fontWeight":"normal","color":"#404040","offset":7,"dx":-5},
"data":{"values":[
{"s":"2016/17","m":0,"v":21.4},{"s":"2016/17","m":0.3,"v":22},{"s":"2016/17","m":0.8,"v":19.4},{"s":"2016/17","m":1.2,"v":17.5},{"s":"2016/17","m":1.5,"v":16.5},{"s":"2016/17","m":2,"v":17},{"s":"2016/17","m":2.5,"v":18.3},{"s":"2016/17","m":3,"v":18.5},{"s":"2016/17","m":3.5,"v":17.4},{"s":"2016/17","m":4,"v":17},{"s":"2016/17","m":4.3,"v":16.5},{"s":"2016/17","m":4.7,"v":15},{"s":"2016/17","m":5,"v":15},{"s":"2016/17","m":5.4,"v":16.7},{"s":"2016/17","m":5.8,"v":15},{"s":"2016/17","m":6.1,"v":13.6},{"s":"2016/17","m":6.4,"v":13.5},{"s":"2016/17","m":6.8,"v":14.7},{"s":"2016/17","m":7.2,"v":15.5},{"s":"2016/17","m":7.6,"v":16.7},{"s":"2016/17","m":8,"v":17.5},{"s":"2016/17","m":8.5,"v":19.8},{"s":"2016/17","m":9,"v":21.4},{"s":"2016/17","m":9.5,"v":22.3},{"s":"2016/17","m":10,"v":23.4},{"s":"2016/17","m":10.5,"v":25.4},{"s":"2016/17","m":11,"v":26},{"s":"2016/17","m":11.5,"v":26.4},{"s":"2016/17","m":11.8,"v":25},{"s":"2016/17","m":12,"v":24},
{"s":"2017/18","m":0,"v":23},{"s":"2017/18","m":0.3,"v":22},{"s":"2017/18","m":0.7,"v":17.6},{"s":"2017/18","m":1,"v":15.4},{"s":"2017/18","m":1.3,"v":16.5},{"s":"2017/18","m":1.6,"v":17.4},{"s":"2017/18","m":2.2,"v":18},{"s":"2017/18","m":2.7,"v":18.8},{"s":"2017/18","m":3.2,"v":20.3},{"s":"2017/18","m":3.6,"v":22},{"s":"2017/18","m":4,"v":24},{"s":"2017/18","m":4.4,"v":25.6},{"s":"2017/18","m":4.6,"v":25.6},{"s":"2017/18","m":5,"v":23.4},{"s":"2017/18","m":5.3,"v":21.6},{"s":"2017/18","m":5.6,"v":23.5},{"s":"2017/18","m":6,"v":24.5},{"s":"2017/18","m":6.3,"v":24.2},{"s":"2017/18","m":6.8,"v":21.5},{"s":"2017/18","m":7.2,"v":20.3},{"s":"2017/18","m":7.6,"v":17.4},{"s":"2017/18","m":8,"v":14.7},{"s":"2017/18","m":8.5,"v":13.4},{"s":"2017/18","m":9,"v":11},{"s":"2017/18","m":9.1,"v":10.7},{"s":"2017/18","m":9.4,"v":12.5},{"s":"2017/18","m":10,"v":15},{"s":"2017/18","m":10.5,"v":17.4},{"s":"2017/18","m":11,"v":19.4},{"s":"2017/18","m":11.3,"v":20},{"s":"2017/18","m":11.6,"v":19.2},{"s":"2017/18","m":12,"v":16},
{"s":"2018/19","m":0,"v":14.7},{"s":"2018/19","m":0.4,"v":14},{"s":"2018/19","m":0.7,"v":13.6},{"s":"2018/19","m":1,"v":14.5},{"s":"2018/19","m":1.5,"v":16.7},{"s":"2018/19","m":2,"v":19.4},{"s":"2018/19","m":2.5,"v":21.5},{"s":"2018/19","m":3,"v":23.2},{"s":"2018/19","m":3.4,"v":24.3},{"s":"2018/19","m":3.7,"v":24.3},{"s":"2018/19","m":4,"v":23},{"s":"2018/19","m":4.5,"v":21.3},{"s":"2018/19","m":5,"v":20.8},{"s":"2018/19","m":5.5,"v":20.5},{"s":"2018/19","m":6,"v":20},{"s":"2018/19","m":6.3,"v":18.3},{"s":"2018/19","m":6.7,"v":19},{"s":"2018/19","m":7.2,"v":20.5},{"s":"2018/19","m":7.6,"v":22},{"s":"2018/19","m":8,"v":24},{"s":"2018/19","m":8.5,"v":26.3},{"s":"2018/19","m":9,"v":29.4},{"s":"2018/19","m":9.3,"v":31.4},{"s":"2018/19","m":9.5,"v":31.8},{"s":"2018/19","m":9.8,"v":28.5},{"s":"2018/19","m":10.1,"v":26.2},{"s":"2018/19","m":10.5,"v":26},{"s":"2018/19","m":11,"v":26},{"s":"2018/19","m":11.5,"v":27},{"s":"2018/19","m":12,"v":26.5},
{"s":"2019/20","m":0,"v":27.4},{"s":"2019/20","m":0.7,"v":25.5},{"s":"2019/20","m":1.2,"v":24},{"s":"2019/20","m":1.5,"v":22.7},{"s":"2019/20","m":1.8,"v":20},{"s":"2019/20","m":2.2,"v":19},{"s":"2019/20","m":2.8,"v":18.4},{"s":"2019/20","m":3.2,"v":18.5},{"s":"2019/20","m":3.6,"v":19.4},{"s":"2019/20","m":4,"v":18.8},{"s":"2019/20","m":4.5,"v":18.5},{"s":"2019/20","m":5,"v":19},{"s":"2019/20","m":5.5,"v":20.7},{"s":"2019/20","m":5.8,"v":21.6},{"s":"2019/20","m":6.2,"v":18},{"s":"2019/20","m":6.5,"v":17.8},{"s":"2019/20","m":6.9,"v":21.4},{"s":"2019/20","m":7.3,"v":24.7},{"s":"2019/20","m":7.7,"v":26.7},{"s":"2019/20","m":8.1,"v":28.3},{"s":"2019/20","m":8.5,"v":28.5},{"s":"2019/20","m":9,"v":29},{"s":"2019/20","m":9.5,"v":29.4},{"s":"2019/20","m":10,"v":30},{"s":"2019/20","m":10.5,"v":30.5},{"s":"2019/20","m":11,"v":31},{"s":"2019/20","m":11.5,"v":31},{"s":"2019/20","m":11.8,"v":30},{"s":"2019/20","m":12,"v":28},
{"s":"2020/21","m":0,"v":26},{"s":"2020/21","m":0.23,"v":24.5},{"s":"2020/21","m":0.46,"v":23.5},{"s":"2020/21","m":0.69,"v":22},{"s":"2020/21","m":0.92,"v":22},{"s":"2020/21","m":1.15,"v":21.5},{"s":"2020/21","m":1.38,"v":17.5},{"s":"2020/21","m":1.62,"v":5.5},{"s":"2020/21","m":1.85,"v":8},{"s":"2020/21","m":2.08,"v":10},{"s":"2020/21","m":2.31,"v":11.5},{"s":"2020/21","m":2.54,"v":12.5},{"s":"2020/21","m":2.77,"v":13.2},{"s":"2020/21","m":3,"v":13.8},{"s":"2020/21","m":3.23,"v":14},{"s":"2020/21","m":3.46,"v":12},{"s":"2020/21","m":3.69,"v":6},{"s":"2020/21","m":3.92,"v":4.5},{"s":"2020/21","m":4.15,"v":3.2},{"s":"2020/21","m":4.38,"v":1.8},{"s":"2020/21","m":4.62,"v":1},{"s":"2020/21","m":4.85,"v":1.8},{"s":"2020/21","m":5.08,"v":2.8},{"s":"2020/21","m":5.31,"v":3.5},{"s":"2020/21","m":5.54,"v":4},{"s":"2020/21","m":5.77,"v":4.7}
]},
"encoding":{
"x":{"field":"m","type":"quantitative","scale":{"domain":[0,12],"nice":false},"axis":{"values":[0,1,2,3,4,5,6,7,8,9,10,11],"labelExpr":"['09月','10月','11月','12月','01月','02月','03月','04月','05月','06月','07月','08月'][datum.value]"}},
"y":{"field":"v","type":"quantitative","scale":{"domain":[0,35],"nice":false},"axis":{"values":[0,5,10,15,20,25,30,35]}},
"color":{"field":"s","type":"nominal","scale":{"domain":["2016/17","2017/18","2018/19","2019/20","2020/21"],"range":["#8064A2","#4BACC6","#F79646","#1F497D","#FF0000"]},"legend":{"title":null,"encode":{"symbols":{"update":{"shape":[{"test":"datum.value==='2020/21'","value":"M-1,0H1M-0.3,0A0.3,0.3,0,1,0,0.3,0A0.3,0.3,0,1,0,-0.3,0Z"},{"value":"stroke"}],"fill":[{"test":"datum.value==='2020/21'","value":"#FF0000"},{"value":"transparent"}]}}}}}
},
"layer":[
{"mark":{"type":"line","interpolate":"monotone","strokeWidth":1.5}},
{"transform":[{"filter":"datum.s==='2020/21'"}],"mark":{"type":"point","filled":true,"size":9,"opacity":1},"encoding":{"color":{"value":"#FF0000"}}}
]
}
]
}
